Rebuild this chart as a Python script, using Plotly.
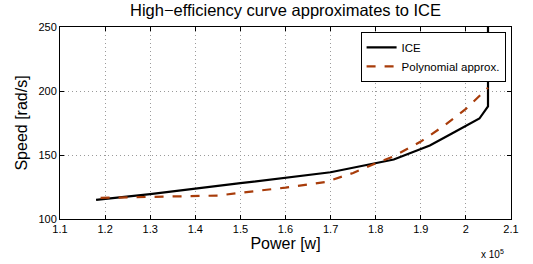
import plotly.graph_objects as go

# Data (power in units of 1e5 W, speed in rad/s)
ice_power = [1.18, 1.30, 1.50, 1.70, 1.84, 1.92, 1.97, 2.03, 2.049, 2.049]
ice_speed = [115.0, 119.5, 128.0, 136.5, 146.5, 157.5, 167.0, 178.5, 188.0, 250.0]

poly_power = [1.19, 1.30, 1.45, 1.50, 1.60, 1.69, 1.75, 1.80, 1.84, 1.90, 1.95, 2.00, 2.049]
poly_speed = [116.5, 117.5, 118.3, 120.5, 124.5, 129.0, 136.0, 143.5, 149.0, 160.5, 172.5, 186.0, 202.5]

x_ticks = [1.1, 1.2, 1.3, 1.4, 1.5, 1.6, 1.7, 1.8, 1.9, 2.0, 2.1]
x_tick_labels = ["1.1", "1.2", "1.3", "1.4", "1.5", "1.6", "1.7", "1.8", "1.9", "2", "2.1"]
y_ticks = [100, 150, 200, 250]

scale = 1e5

fig = go.Figure()
fig.add_trace(go.Scatter(
    x=[p * scale for p in ice_power], y=ice_speed, mode="lines", name="ICE",
    line=dict(color="black", width=2.2),
))
fig.add_trace(go.Scatter(
    x=[p * scale for p in poly_power], y=poly_speed, mode="lines", name="Polynomial approx.",
    line=dict(color="#A83C0A", width=2.2, dash="dash"),
))

font = "Liberation Sans, Arial, Helvetica, sans-serif"
axis_common = dict(
    showline=True, linecolor="black", linewidth=1, mirror="ticks",
    ticks="inside", ticklen=4, tickcolor="black",
    showgrid=True, gridcolor="#9a9a9a", griddash="1px,3px", gridwidth=1,
    zeroline=False, tickfont=dict(size=11, color="black", family=font),
)

fig.update_layout(
    width=533, height=264,
    margin=dict(l=60, r=22, t=27, b=45),
    paper_bgcolor="white", plot_bgcolor="white",
    font=dict(family=font, color="black"),
    title=dict(text="High\u2212efficiency curve approximates to ICE", x=0.5, xanchor="center",
               xref="paper", yref="container", y=1 - 4 / 264, yanchor="top",
               font=dict(size=16.5, color="black", family=font)),
    xaxis=dict(range=[1.1 * scale, 2.1 * scale], tickvals=[t * scale for t in x_ticks],
               ticktext=x_tick_labels,
               title=dict(text="Power [w]", font=dict(size=16), standoff=2), **axis_common),
    yaxis=dict(range=[100, 250], tickvals=y_ticks,
               title=dict(text="Speed [rad/s]", font=dict(size=16), standoff=6), **axis_common),
    legend=dict(x=0.988, y=0.975, xanchor="right", yanchor="top",
                bgcolor="white", bordercolor="black", borderwidth=1,
                font=dict(size=11.5, color="black", family=font),
                tracegroupgap=0),
    showlegend=True,
    annotations=[dict(text="x 10<sup>5</sup>", xref="paper", yref="paper", x=0.99, y=-0.182,
                      xanchor="right", yanchor="middle", showarrow=False,
                      font=dict(size=10, color="black", family=font))],
)

fig.write_html("out.html", config={"displayModeBar": False},
               post_script="document.body.style.margin='0';")
